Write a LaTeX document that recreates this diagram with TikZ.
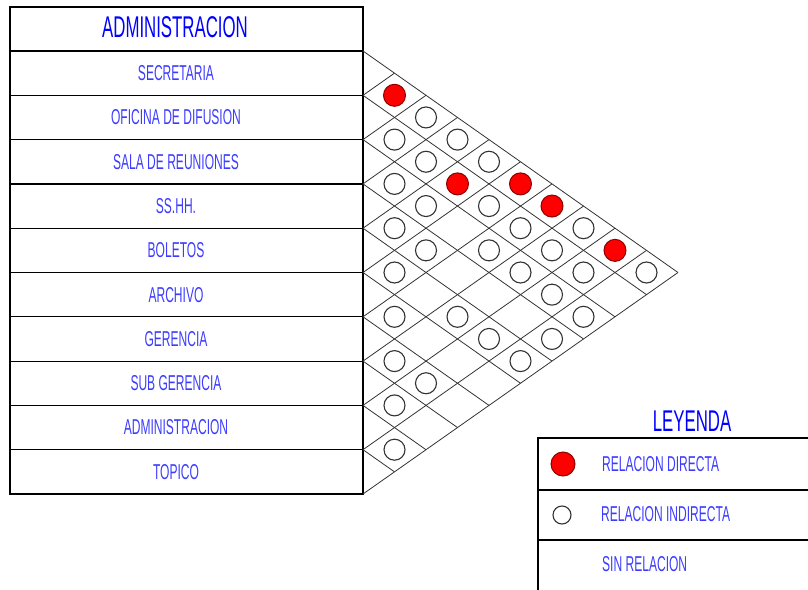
\documentclass[tikz,border=0pt]{standalone}
\usepackage{fontspec}
\newfontfamily\agency[FakeStretch=0.56]{Liberation Sans}
\definecolor{azulTitulo}{RGB}{0,0,255}
\definecolor{azulTexto}{RGB}{60,60,255}

\begin{document}
\begin{tikzpicture}[x=1pt, y=-1pt,
    ambiente/.style={font=\agency\fontsize{21.5}{24}\selectfont, text=azulTexto, inner sep=0pt},
    encabezado/.style={font=\agency\fontsize{30}{34}\selectfont, text=azulTitulo, inner sep=0pt},
    directa/.style={circle, draw=red!55!black, fill=red, line width=1pt,
                    minimum size=22pt, inner sep=0pt},
    indirecta/.style={circle, draw=black!80, fill=white, line width=1.1pt,
                      minimum size=21pt, inner sep=0pt},
    rejilla/.style={draw=black!80, line width=0.8pt},
    tabla/.style={draw=black, line width=1.2pt}
]
\clip (0,0) rectangle (808,589);

% Tabla de ambientes
\draw[tabla] (10,7) rectangle (363,494);
\foreach \i in {0,...,9}
    \draw[tabla] (10,51+44.3*\i) -- (363,51+44.3*\i);

\node[encabezado] (titulo) at (175,27) {ADMINISTRACION};
\node[ambiente] (secretaria) at (176,73.15) {SECRETARIA};
\node[ambiente] (difusion) at (176,117.45) {OFICINA DE DIFUSION};
\node[ambiente] (reuniones) at (176,161.75) {SALA DE REUNIONES};
\node[ambiente] (sshh) at (176,206.05) {SS.HH.};
\node[ambiente] (boletos) at (176,250.35) {BOLETOS};
\node[ambiente] (archivo) at (176,294.65) {ARCHIVO};
\node[ambiente] (gerencia) at (176,338.95) {GERENCIA};
\node[ambiente] (subgerencia) at (176,383.25) {SUB GERENCIA};
\node[ambiente] (administracion) at (176,427.55) {ADMINISTRACION};
\node[ambiente] (topico) at (176,471.85) {TOPICO};

% Matriz de relaciones
\foreach \i in {0,...,10}{
    \draw[rejilla] (363,51+44.3*\i) -- ({363+31.5*(10-\i)},{51+22.15*(\i+10)});
    \draw[rejilla] (363,51+44.3*\i) -- ({363+31.5*\i},{51+22.15*\i});
}

% Relacion directa
\foreach \a/\b in {1/2,2/5,1/6,1/7,1/9}
    \node[directa] (d\a-\b) at ({363+31.5*(\b-\a)},{51+22.15*(\a+\b-1)}) {};

% Relacion indirecta
\foreach \a/\b in {2/3,3/4,4/5,5/6,6/7,7/8,8/9,9/10,
                   1/3,2/4,3/5,4/6,7/9,1/4,5/8,1/5,2/6,3/7,5/9,
                   2/7,3/8,5/10,2/8,3/9,4/10,1/8,2/9,3/10,1/10}
    \node[indirecta] (i\a-\b) at ({363+31.5*(\b-\a)},{51+22.15*(\a+\b-1)}) {};

% Leyenda
\node[encabezado] (leyenda) at (692,421) {LEYENDA};
\draw[tabla] (538,438) rectangle (815,600);
\draw[tabla] (538,490) -- (815,490);
\draw[tabla] (538,540) -- (815,540);

\node[directa, minimum size=24pt] (ldirecta) at (563,464) {};
\node[ambiente, anchor=west] (tdirecta) at (602,464) {RELACION DIRECTA};
\node[indirecta, minimum size=18pt] (lindirecta) at (562,515) {};
\node[ambiente, anchor=west] (tindirecta) at (601,514) {RELACION INDIRECTA};
\node[ambiente, anchor=west] (tsin) at (602,564) {SIN RELACION};

\end{tikzpicture}
\end{document}
